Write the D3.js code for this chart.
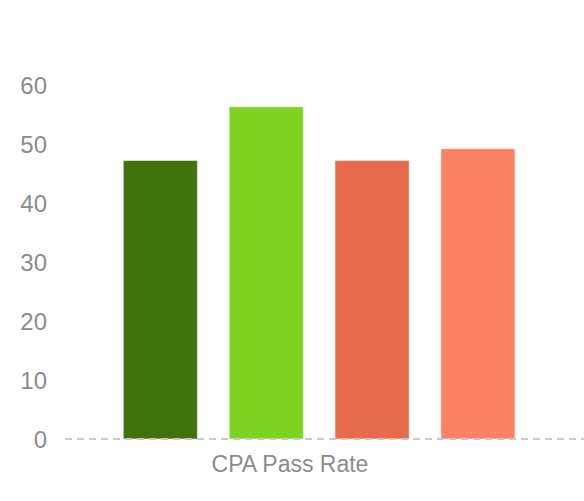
<!DOCTYPE html>
<html>
<head>
<meta charset="utf-8">
<script src="https://cdn.jsdelivr.net/npm/d3@7"></script>
<style>
  body { margin: 0; background: #fff; }
  text { font-family: "Liberation Sans", Arial, sans-serif; }
</style>
</head>
<body>
<script>
// data
const category = "CPA Pass Rate";
const seriesNames = ["Series 1", "Series 2", "Series 3", "Series 4"];
const seriesValues = [47.2, 56.3, 47.2, 49.2];
const seriesColors = ["#41730a", "#7ed321", "#e56b4c", "#fb8265"];
const yTicks = [0, 10, 20, 30, 40, 50, 60];

const outerWidth = 584;
const outerHeight = 501;

const svg = d3.select("body").append("svg")
    .attr("width", outerWidth)
    .attr("height", outerHeight);

const yScale = d3.scaleLinear()
    .domain([0, 60])
    .range([439, 85]);

const xScale = d3.scaleBand()
    .domain(seriesNames)
    .range([123.3, 515])
    .paddingInner(0.3)
    .paddingOuter(0);

// y tick labels (no axis line)
svg.append("g")
    .selectAll("text")
    .data(yTicks)
    .join("text")
    .attr("x", 47)
    .attr("y", d => yScale(d))
    .attr("dy", "0.36em")
    .attr("text-anchor", "end")
    .attr("font-size", 24)
    .attr("fill", "#8c8c8c")
    .text(d => d);

// bars
svg.append("g")
    .selectAll("rect")
    .data(seriesValues)
    .join("rect")
    .attr("x", (d, i) => xScale(seriesNames[i]))
    .attr("y", d => yScale(d))
    .attr("width", xScale.bandwidth())
    .attr("height", d => yScale(0) - yScale(d))
    .attr("fill", (d, i) => seriesColors[i])
    .attr("stroke", "#fff")
    .attr("stroke-opacity", 0.5)
    .attr("stroke-width", 1);

// dashed baseline
svg.append("line")
    .attr("x1", 65)
    .attr("x2", outerWidth)
    .attr("y1", yScale(0))
    .attr("y2", yScale(0))
    .attr("stroke", "#c8c8c8")
    .attr("stroke-width", 2)
    .attr("stroke-dasharray", "7,5");

// category label
svg.append("text")
    .attr("x", 290)
    .attr("y", 472)
    .attr("text-anchor", "middle")
    .attr("font-size", 23)
    .attr("fill", "#8c8c8c")
    .text(category);
</script>
</body>
</html>
